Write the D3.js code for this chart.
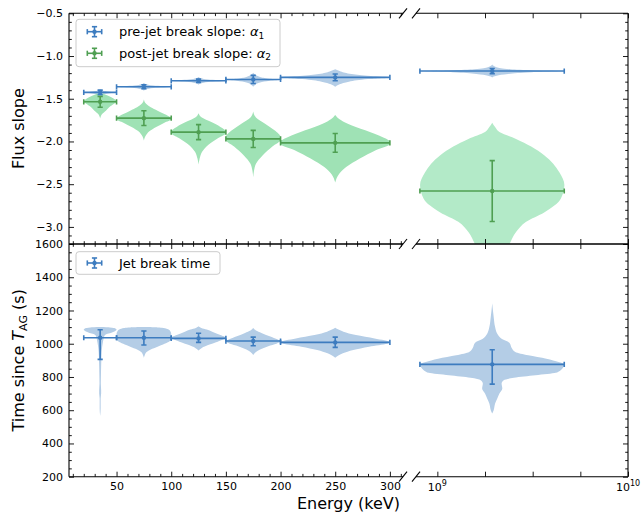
<!DOCTYPE html>
<html><head><meta charset="utf-8">
<script src="https://cdn.jsdelivr.net/npm/d3@7"></script>
<style>body{margin:0;background:#fff} svg{font-family:"DejaVu Sans",sans-serif}</style>
</head><body><svg id="c" width="641" height="515"></svg>
<script>
// ---------------- data ----------------
const binLo = [20, 50, 100, 150, 200];
const binHi = [50, 100, 150, 200, 300];
const binMid = [35, 75, 125, 175, 250];
const hiBin = [8.1e8, 4.63e9];
const hiMid = 1.94e9;

const alpha1 = [-1.426, -1.36, -1.29, -1.274, -1.25];
const alpha1Err = [0.027, 0.023, 0.02, 0.047, 0.04];
const alpha1Hi = -1.176, alpha1HiErr = 0.03;

const alpha2 = [-1.536, -1.727, -1.891, -1.97, -2.016];
const alpha2Err = [0.063, 0.086, 0.088, 0.10, 0.11];
const alpha2Hi = -2.58, alpha2HiErr = 0.356;

const tBreak = [1036, 1036, 1032, 1016, 1008];
const tBreakUp = [1084, 1077, 1063, 1040, 1040];
const tBreakLow = [906, 992, 1008, 988, 978];
const tBreakHi = 876, tBreakHiUp = 964, tBreakHiLow = 757;

// violin profiles: [value, relative density width]
const vioAlpha1 = [
  [[-1.39,0],[-1.40,0.1],[-1.41,0.3],[-1.42,0.7],[-1.426,1],[-1.433,0.7],[-1.445,0.3],[-1.455,0.1],[-1.465,0]],
  [[-1.315,0],[-1.33,0.1],[-1.345,0.35],[-1.36,1],[-1.375,0.35],[-1.39,0.1],[-1.405,0]],
  [[-1.245,0],[-1.26,0.1],[-1.275,0.35],[-1.29,1],[-1.305,0.35],[-1.32,0.1],[-1.335,0]],
  [[-1.195,0],[-1.22,0.08],[-1.245,0.25],[-1.265,0.6],[-1.275,1],[-1.29,0.6],[-1.31,0.25],[-1.335,0.08],[-1.36,0]],
  [[-1.155,0],[-1.18,0.1],[-1.21,0.3],[-1.235,0.65],[-1.25,1],[-1.27,0.6],[-1.3,0.25],[-1.33,0.08],[-1.36,0]]
];
const vioAlpha1Hi = [[-1.1,0],[-1.13,0.06],[-1.155,0.25],[-1.168,0.6],[-1.176,1],[-1.19,0.55],[-1.21,0.22],[-1.23,0.06],[-1.25,0]];

const vioAlpha2 = [
  [[-1.43,0],[-1.45,0.3],[-1.48,0.65],[-1.51,0.9],[-1.535,1.0],[-1.56,0.85],[-1.6,0.55],[-1.64,0.35],[-1.68,0.12],[-1.73,0]],
  [[-1.51,0],[-1.56,0.08],[-1.6,0.25],[-1.64,0.5],[-1.68,0.75],[-1.72,0.97],[-1.74,1.0],[-1.78,0.75],[-1.83,0.45],[-1.88,0.2],[-1.93,0.07],[-1.99,0]],
  [[-1.67,0],[-1.72,0.12],[-1.77,0.45],[-1.83,0.8],[-1.88,1.0],[-1.9,1.0],[-1.96,0.72],[-2.04,0.35],[-2.12,0.13],[-2.2,0.04],[-2.27,0]],
  [[-1.65,0],[-1.72,0.1],[-1.79,0.42],[-1.87,0.78],[-1.95,1.0],[-1.98,1.0],[-2.06,0.7],[-2.16,0.35],[-2.26,0.1],[-2.34,0.03],[-2.42,0]],
  [[-1.69,0],[-1.74,0.08],[-1.79,0.22],[-1.87,0.55],[-1.95,0.87],[-2.0,1.0],[-2.03,1.0],[-2.1,0.75],[-2.2,0.45],[-2.3,0.2],[-2.38,0.07],[-2.48,0]]
];
const vioAlpha2Hi = [[-1.78,0],[-1.83,0.04],[-1.89,0.1],[-1.97,0.33],[-2.06,0.54],[-2.16,0.72],[-2.36,0.93],[-2.51,1.0],[-2.67,0.95],[-2.83,0.72],[-2.94,0.47],[-3.06,0.33],[-3.2,0.24],[-3.3,0.18],[-3.45,0.05],[-3.6,0]];

const vioTime = [
  [[1100,0],[1098,0.6],[1093,0.9],[1085,1.0],[1075,0.9],[1065,0.65],[1058,0.4],[1050,0.27],[1035,0.22],[1010,0.17],[980,0.12],[950,0.09],[900,0.07],[820,0.05],[760,0.04],[720,0.06],[700,0.06],[670,0.03],[610,0.03],[565,0]],
  [[1100,0],[1098,0.5],[1092,0.8],[1080,0.95],[1060,1.0],[1030,1.0],[1010,0.9],[995,0.7],[982,0.5],[965,0.25],[950,0.1],[935,0.04],[915,0]],
  [[1105,0],[1095,0.1],[1085,0.3],[1072,0.5],[1052,0.8],[1036,1.0],[1025,0.9],[1012,0.7],[992,0.35],[975,0.12],[960,0]],
  [[1095,0],[1080,0.1],[1065,0.3],[1045,0.6],[1025,0.9],[1015,1.0],[1000,0.85],[985,0.55],[965,0.25],[950,0.1],[932,0]],
  [[1096,0],[1085,0.06],[1072,0.15],[1052,0.38],[1032,0.72],[1010,1.0],[1000,0.95],[982,0.62],[962,0.33],[942,0.14],[928,0.05],[916,0]]
];
const vioTimeHi = [[1244,0],[1200,0.01],[1163,0.02],[1100,0.04],[1060,0.07],[1030,0.13],[1005,0.24],[975,0.27],[950,0.32],[930,0.5],[910,0.75],[890,0.92],[876,1.0],[850,0.97],[825,0.88],[810,0.6],[795,0.3],[780,0.16],[760,0.13],[730,0.14],[700,0.1],[670,0.07],[640,0.04],[600,0.02],[580,0]];

const yTopMajor = [-3.0, -2.5, -2.0, -1.5, -1.0, -0.5];
const yBotMajor = [200, 400, 600, 800, 1000, 1200, 1400, 1600];
const xLMajor = [50, 100, 150, 200, 250, 300];
const legendTop = ["pre-jet break slope: ", "post-jet break slope: "];
const legendTopSym = ["1", "2"];
const legendBot = ["Jet break time"];

// ---------------- layout ----------------
const X0 = 69, XL1 = 403, XR0 = 416, X1 = 628;
const T0 = 13.3, T1 = 244, B0 = 244, B1 = 476.7;
const C_BLUE = "#3d7cbf", C_GREEN = "#4f9f52";
const F_BLUE = "#b4cde6", F_GREEN = "#9fe2b5", F_GREEN_HI = "#b3eac8";

const svg = d3.select("#c");
const xL = d3.scaleLinear().domain([6.5, 312]).range([X0, XL1]);
const xR = d3.scaleLog().domain([Math.pow(10, 8.888), 1e10]).range([XR0, X1]);
const yTop = d3.scaleLinear().domain([-3.2, -0.5]).range([T1, T0]);
const yBot = d3.scaleLinear().domain([200, 1600]).range([B1, B0]);

const defs = svg.append("defs");
function clip(id, x0, x1, y0, y1) {
  defs.append("clipPath").attr("id", id).append("rect").attr("x", x0).attr("y", y0).attr("width", x1 - x0).attr("height", y1 - y0);
  return svg.append("g").attr("clip-path", `url(#${id})`);
}
const gTL = clip("tl", X0, XL1, T0, T1), gTR = clip("tr", XR0, X1, T0, T1);
const gBL = clip("bl", X0, XL1, B0, B1), gBR = clip("br", XR0, X1, B0, B1);

const area = d3.area().curve(d3.curveMonotoneY).y(d => d.y).x0(d => d.x0).x1(d => d.x1);

function violinLin(g, prof, mid, lo, hi, y, fill) {
  const half = (hi - lo) / 2;
  const pts = prof.map(([v, w]) => ({ y: y(v), x0: xL(mid - w * half), x1: xL(mid + w * half) }));
  g.append("path").attr("d", area(pts)).attr("fill", fill);
}
function violinLog(g, prof, mid, lo, hi, y, fill) {
  const ratio = hi / lo;
  const pts = prof.map(([v, w]) => ({ y: y(v), x0: xR(mid / Math.pow(ratio, w / 2)), x1: xR(mid * Math.pow(ratio, w / 2)) }));
  g.append("path").attr("d", area(pts)).attr("fill", fill);
}
function errbar(g, xc, xlo, xhi, yc, yup, ylow, color) {
  const e = g.append("g").attr("stroke", color).attr("stroke-width", 1.6).attr("fill", "none");
  const cap = 2.6;
  e.append("line").attr("x1", xlo).attr("x2", xhi).attr("y1", yc).attr("y2", yc);
  e.append("line").attr("x1", xlo).attr("x2", xlo).attr("y1", yc - cap).attr("y2", yc + cap);
  e.append("line").attr("x1", xhi).attr("x2", xhi).attr("y1", yc - cap).attr("y2", yc + cap);
  e.append("line").attr("x1", xc).attr("x2", xc).attr("y1", yup).attr("y2", ylow);
  e.append("line").attr("x1", xc - cap).attr("x2", xc + cap).attr("y1", yup).attr("y2", yup);
  e.append("line").attr("x1", xc - cap).attr("x2", xc + cap).attr("y1", ylow).attr("y2", ylow);
  g.append("circle").attr("cx", xc).attr("cy", yc).attr("r", 2.2).attr("fill", color);
}

// violins
binMid.forEach((m, i) => {
  violinLin(gTL, vioAlpha1[i], m, binLo[i], binHi[i], yTop, F_BLUE);
  violinLin(gTL, vioAlpha2[i], m, binLo[i], binHi[i], yTop, F_GREEN);
  violinLin(gBL, vioTime[i], m, binLo[i], binHi[i], yBot, F_BLUE);
});
violinLog(gTR, vioAlpha1Hi, hiMid, hiBin[0], hiBin[1], yTop, F_BLUE);
violinLog(gTR, vioAlpha2Hi, hiMid, hiBin[0], hiBin[1], yTop, F_GREEN_HI);
violinLog(gBR, vioTimeHi, hiMid, hiBin[0], hiBin[1], yBot, F_BLUE);

// error bars
binMid.forEach((m, i) => {
  errbar(gTL, xL(m), xL(binLo[i]), xL(binHi[i]), yTop(alpha1[i]), yTop(alpha1[i] + alpha1Err[i]), yTop(alpha1[i] - alpha1Err[i]), C_BLUE);
  errbar(gTL, xL(m), xL(binLo[i]), xL(binHi[i]), yTop(alpha2[i]), yTop(alpha2[i] + alpha2Err[i]), yTop(alpha2[i] - alpha2Err[i]), C_GREEN);
  errbar(gBL, xL(m), xL(binLo[i]), xL(binHi[i]), yBot(tBreak[i]), yBot(tBreakUp[i]), yBot(tBreakLow[i]), C_BLUE);
});
errbar(gTR, xR(hiMid), xR(hiBin[0]), xR(hiBin[1]), yTop(alpha1Hi), yTop(alpha1Hi + alpha1HiErr), yTop(alpha1Hi - alpha1HiErr), C_BLUE);
errbar(gTR, xR(hiMid), xR(hiBin[0]), xR(hiBin[1]), yTop(alpha2Hi), yTop(alpha2Hi + alpha2HiErr), yTop(alpha2Hi - alpha2HiErr), C_GREEN);
errbar(gBR, xR(hiMid), xR(hiBin[0]), xR(hiBin[1]), yBot(tBreakHi), yBot(tBreakHiUp), yBot(tBreakHiLow), C_BLUE);

// ---------------- axes ----------------
function style(sel) {
  sel.select(".domain").remove();
  sel.attr("font-size", 11).attr("font-family", "DejaVu Sans");
  sel.selectAll("line").attr("stroke", "#000").attr("stroke-width", 0.9);
  sel.selectAll("text").attr("fill", "#000");
}
const fmtTop = d => (d < 0 ? "\u2212" : "") + Math.abs(d).toFixed(1);
const minorTop = d3.range(-32, -4).map(v => v / 10).filter(v => !yTopMajor.some(m => Math.abs(m - v) < 1e-9));
const minorBot = d3.range(200, 1601, 50).filter(v => !yBotMajor.includes(v));
function yAxes(y, major, minor, fmt) {
  svg.append("g").attr("transform", `translate(${X0},0)`).call(d3.axisLeft(y).tickValues(major).tickSize(-5).tickPadding(6).tickFormat(fmt)).call(style);
  svg.append("g").attr("transform", `translate(${X0},0)`).call(d3.axisLeft(y).tickValues(minor).tickSize(-2.8).tickFormat("")).call(style);
  svg.append("g").attr("transform", `translate(${X1},0)`).call(d3.axisRight(y).tickValues(major).tickSize(-5).tickFormat("")).call(style);
  svg.append("g").attr("transform", `translate(${X1},0)`).call(d3.axisRight(y).tickValues(minor).tickSize(-2.8).tickFormat("")).call(style);
}
yAxes(yTop, yTopMajor, minorTop, fmtTop);
yAxes(yBot, yBotMajor, minorBot, d => d);

const minorXL = d3.range(10, 311, 10).filter(v => !xLMajor.includes(v));
const xRTicks = d3.range(0, 5).map(i => Math.pow(10, 9 + i * 0.25));
function xAxes(yPos, top, labels) {
  const A = top ? d3.axisTop : d3.axisBottom;
  svg.append("g").attr("transform", `translate(0,${yPos})`).call(A(xL).tickValues(xLMajor).tickSize(-5).tickPadding(6).tickFormat(labels ? d => d : "")).call(style);
  svg.append("g").attr("transform", `translate(0,${yPos})`).call(A(xL).tickValues(minorXL).tickSize(-2.8).tickFormat("")).call(style);
  svg.append("g").attr("transform", `translate(0,${yPos})`).call(A(xR).tickValues(xRTicks).tickSize(-5).tickFormat("")).call(style);
}
xAxes(T0, true, false); xAxes(T1, false, false);
xAxes(B0, true, false); xAxes(B1, false, true);

// log labels
[[1e9, "9"], [1e10, "10"]].forEach(([v, e]) => {
  const t = svg.append("text").attr("x", xR(v)).attr("y", 490.7).attr("text-anchor", "middle").attr("font-size", 11);
  t.append("tspan").text("10");
  t.append("tspan").attr("dy", -5).attr("font-size", 8).text(e);
});

// spines
const sp = svg.append("g").attr("stroke", "#000").attr("stroke-width", 1.1);
[[T0, T1], [B0, B1]].forEach(([a, b]) => {
  sp.append("line").attr("x1", X0).attr("x2", X0).attr("y1", a).attr("y2", b);
  sp.append("line").attr("x1", X1).attr("x2", X1).attr("y1", a).attr("y2", b);
  [a, b].forEach(yy => {
    sp.append("line").attr("x1", X0).attr("x2", XL1).attr("y1", yy).attr("y2", yy);
    sp.append("line").attr("x1", XR0).attr("x2", X1).attr("y1", yy).attr("y2", yy);
  });
});
// break marks
[T0, T1, B1].forEach(yy => {
  [XL1, XR0].forEach(xx => {
    sp.append("line").attr("x1", xx - 4).attr("x2", xx + 4).attr("y1", yy + 5).attr("y2", yy - 5);
  });
});

// ---------------- legends ----------------
function legendHandle(g, cx, cy, color) {
  errbar(g, cx, cx - 7.2, cx + 7.2, cy, cy - 5, cy + 5, color);
}
const lg1 = svg.append("g");
lg1.append("rect").attr("x", 76).attr("y", 19.3).attr("width", 204).attr("height", 47.4).attr("rx", 3)
  .attr("fill", "#fff").attr("fill-opacity", 0.8).attr("stroke", "#cccccc");
[C_BLUE, C_GREEN].forEach((c, i) => {
  const cy = 31.7 + i * 21.6;
  legendHandle(lg1, 94.5, cy, c);
  const t = lg1.append("text").attr("x", 119).attr("y", cy + 4.6).attr("font-size", 13);
  t.append("tspan").text(legendTop[i]);
  t.append("tspan").attr("font-style", "italic").text("\u03b1");
  t.append("tspan").attr("font-size", 9).attr("dy", 2.5).text(legendTopSym[i]);
});
const lg2 = svg.append("g");
lg2.append("rect").attr("x", 76).attr("y", 251.7).attr("width", 144).attr("height", 22.6).attr("rx", 3)
  .attr("fill", "#fff").attr("fill-opacity", 0.8).attr("stroke", "#cccccc");
legendHandle(lg2, 94.5, 263, C_BLUE);
lg2.append("text").attr("x", 119).attr("y", 267.6).attr("font-size", 13).text(legendBot[0]);

// ---------------- axis labels ----------------
svg.append("text").attr("transform", `translate(23.5,${(T0 + T1) / 2}) rotate(-90)`).attr("text-anchor", "middle").attr("font-size", 16).text("Flux slope");
const yl = svg.append("text").attr("transform", `translate(23.5,${(B0 + B1) / 2}) rotate(-90)`).attr("text-anchor", "middle").attr("font-size", 16);
yl.append("tspan").text("Time since ");
yl.append("tspan").attr("font-style", "italic").text("T");
yl.append("tspan").attr("font-size", 11).attr("dy", 3).text("AG");
yl.append("tspan").attr("dy", -3).text(" (s)");
svg.append("text").attr("x", (X0 + X1) / 2).attr("y", 509).attr("text-anchor", "middle").attr("font-size", 16).text("Energy (keV)");
</script></body></html>
